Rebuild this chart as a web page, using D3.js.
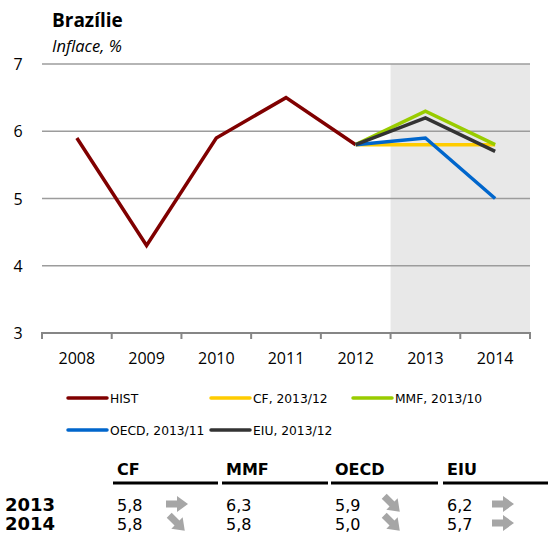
<!DOCTYPE html>
<html lang="cs">
<head>
<meta charset="UTF-8">
<title>Brazílie - inflace</title>
<style>
  body { margin: 0; background: #fff; }
  svg { display: block; }
</style>
</head>
<body>
<svg id="chart"></svg>
<script src="https://cdn.jsdelivr.net/npm/d3@7"></script>
<script>
// data
const years = ["2008", "2009", "2010", "2011", "2012", "2013", "2014"];
const histValues = [5.9, 4.3, 5.9, 6.5, 5.8];
const forecastYears = ["2012", "2013", "2014"];
const cfValues = [5.8, 5.8, 5.8];
const mmfValues = [5.8, 6.3, 5.8];
const oecdValues = [5.8, 5.9, 5.0];
const eiuValues = [5.8, 6.2, 5.7];
const yTicks = [3, 4, 5, 6, 7];
const forecastStart = "2013";

const seriesNames = ["HIST", "CF, 2013/12", "MMF, 2013/10", "OECD, 2013/11", "EIU, 2013/12"];
const seriesColors = ["#800000", "#ffcc00", "#99cc00", "#0066cc", "#333333"];

// table below chart
const tableCols = ["CF", "MMF", "OECD", "EIU"];
const tableRows = ["2013", "2014"];
const table2013 = ["5,8", "6,3", "5,9", "6,2"];
const table2014 = ["5,8", "5,8", "5,0", "5,7"];
const arrows2013 = ["right", null, "down", "right"];
const arrows2014 = ["down", null, "down", "right"];

const W = 548, H = 538;
const margin = { top: 64, left: 42, right: 18, bottom: 205 };
const svg = d3.select("#chart").attr("width", W).attr("height", H);

const x = d3.scaleBand().domain(years).range([margin.left, W - margin.right]);
const y = d3.scaleLinear().domain([3, 7]).range([H - margin.bottom, margin.top]);
const cx = d => x(d) + x.bandwidth() / 2;

// shaded forecast area
svg.append("rect")
  .attr("x", x(forecastStart))
  .attr("y", y(7))
  .attr("width", x.range()[1] - x(forecastStart))
  .attr("height", y(3) - y(7))
  .attr("fill", "#e8e8e8");

// gridlines
svg.append("g")
  .selectAll("line")
  .data(yTicks.filter(t => t > 3))
  .join("line")
  .attr("x1", x.range()[0]).attr("x2", x.range()[1])
  .attr("y1", d => y(d)).attr("y2", d => y(d))
  .attr("stroke", "#9c9c9c").attr("stroke-width", 1.3);

// y labels
svg.append("g")
  .selectAll("text")
  .data(yTicks)
  .join("text")
  .attr("x", 18).attr("y", d => y(d) + 6)
  .attr("text-anchor", "middle")
  .attr("font-family", "Open Sans, sans-serif")
  .attr("font-size", 16)
  .attr("fill", "#000")
  .text(d => d);

// x axis
const xAxis = svg.append("g").attr("transform", "translate(0," + y(3) + ")");
xAxis.append("line")
  .attr("x1", x.range()[0]).attr("x2", x.range()[1])
  .attr("stroke", "#868686").attr("stroke-width", 2);
const bounds = years.map(d => x(d)).concat([x.range()[1]]);
xAxis.selectAll("line.tick")
  .data(bounds)
  .join("line")
  .attr("class", "tick")
  .attr("x1", d => d).attr("x2", d => d)
  .attr("y1", -1).attr("y2", 6)
  .attr("stroke", "#868686").attr("stroke-width", 2);
xAxis.selectAll("text")
  .data(years)
  .join("text")
  .attr("x", d => cx(d)).attr("y", 31)
  .attr("text-anchor", "middle")
  .attr("font-family", "Open Sans, sans-serif")
  .attr("font-size", 16)
  .attr("fill", "#000")
  .text(d => d);

// lines
const line = d3.line().x(d => cx(d[0])).y(d => y(d[1]));
const allSeries = [
  years.slice(0, histValues.length).map((d, i) => [d, histValues[i]]),
  forecastYears.map((d, i) => [d, cfValues[i]]),
  forecastYears.map((d, i) => [d, mmfValues[i]]),
  forecastYears.map((d, i) => [d, oecdValues[i]]),
  forecastYears.map((d, i) => [d, eiuValues[i]])
];
svg.append("g")
  .selectAll("path")
  .data(allSeries)
  .join("path")
  .attr("d", line)
  .attr("fill", "none")
  .attr("stroke", (d, i) => seriesColors[i])
  .attr("stroke-width", 3.5)
  .attr("stroke-linejoin", "miter");

// legend
const legendPos = [[68, 398], [211, 398], [353, 398], [68, 430], [211, 430]];
const legend = svg.append("g")
  .selectAll("g")
  .data(seriesNames)
  .join("g")
  .attr("transform", (d, i) => "translate(" + legendPos[i][0] + "," + legendPos[i][1] + ")");
legend.append("line")
  .attr("x1", 0).attr("x2", 39)
  .attr("stroke", (d, i) => seriesColors[i])
  .attr("stroke-width", 3.5)
  .attr("stroke-linecap", "round");
legend.append("text")
  .attr("x", 42).attr("y", 4.5)
  .attr("font-family", "DejaVu Sans, sans-serif")
  .attr("font-size", 12.3)
  .attr("fill", "#000")
  .text(d => d);

// title
svg.append("text")
  .attr("x", 52).attr("y", 27)
  .attr("font-family", "Open Sans, sans-serif")
  .attr("font-weight", "bold")
  .attr("font-size", 19)
  .text("Brazílie");
svg.append("text")
  .attr("x", 52).attr("y", 52)
  .attr("font-family", "Open Sans, sans-serif")
  .attr("font-style", "italic")
  .attr("font-size", 16.5)
  .text("Inflace, %");

// table
const colX = [117, 226, 335, 447];
const colEnd = [218, 328, 438, 548];
const tbl = svg.append("g").attr("font-family", "DejaVu Sans, sans-serif");
tbl.selectAll("text.head")
  .data(tableCols)
  .join("text")
  .attr("class", "head")
  .attr("x", (d, i) => colX[i]).attr("y", 475)
  .attr("font-weight", "bold").attr("font-size", 16)
  .text(d => d);
tbl.selectAll("line")
  .data(tableCols)
  .join("line")
  .attr("x1", (d, i) => colX[i] - 4).attr("x2", (d, i) => colEnd[i])
  .attr("y1", 483).attr("y2", 483)
  .attr("stroke", "#000").attr("stroke-width", 3);

const rowY = [511, 530];
const rowVals = [table2013, table2014];
const rowArrows = [arrows2013, arrows2014];
const arrowX = [177, null, 392, 503];
const arrowPath = "M-11,-3.5 L0,-3.5 L0,-8 L11,0 L0,8 L0,3.5 L-11,3.5 Z";

tableRows.forEach((r, ri) => {
  tbl.append("text")
    .attr("x", 5).attr("y", rowY[ri])
    .attr("font-weight", "bold").attr("font-size", 18)
    .text(r);
  tbl.selectAll("text.v" + ri)
    .data(rowVals[ri])
    .join("text")
    .attr("class", "v" + ri)
    .attr("x", (d, i) => colX[i]).attr("y", rowY[ri])
    .attr("font-size", 16)
    .text(d => d);
  tbl.selectAll("path.a" + ri)
    .data(rowArrows[ri].map((d, i) => ({ dir: d, i: i })).filter(d => d.dir))
    .join("path")
    .attr("class", "a" + ri)
    .attr("d", arrowPath)
    .attr("fill", "#a6a6a6")
    .attr("transform", d => "translate(" + arrowX[d.i] + "," + (rowY[ri] - 7) + ")" +
      (d.dir === "down" ? " rotate(45)" : ""));
});
</script>
</body>
</html>
